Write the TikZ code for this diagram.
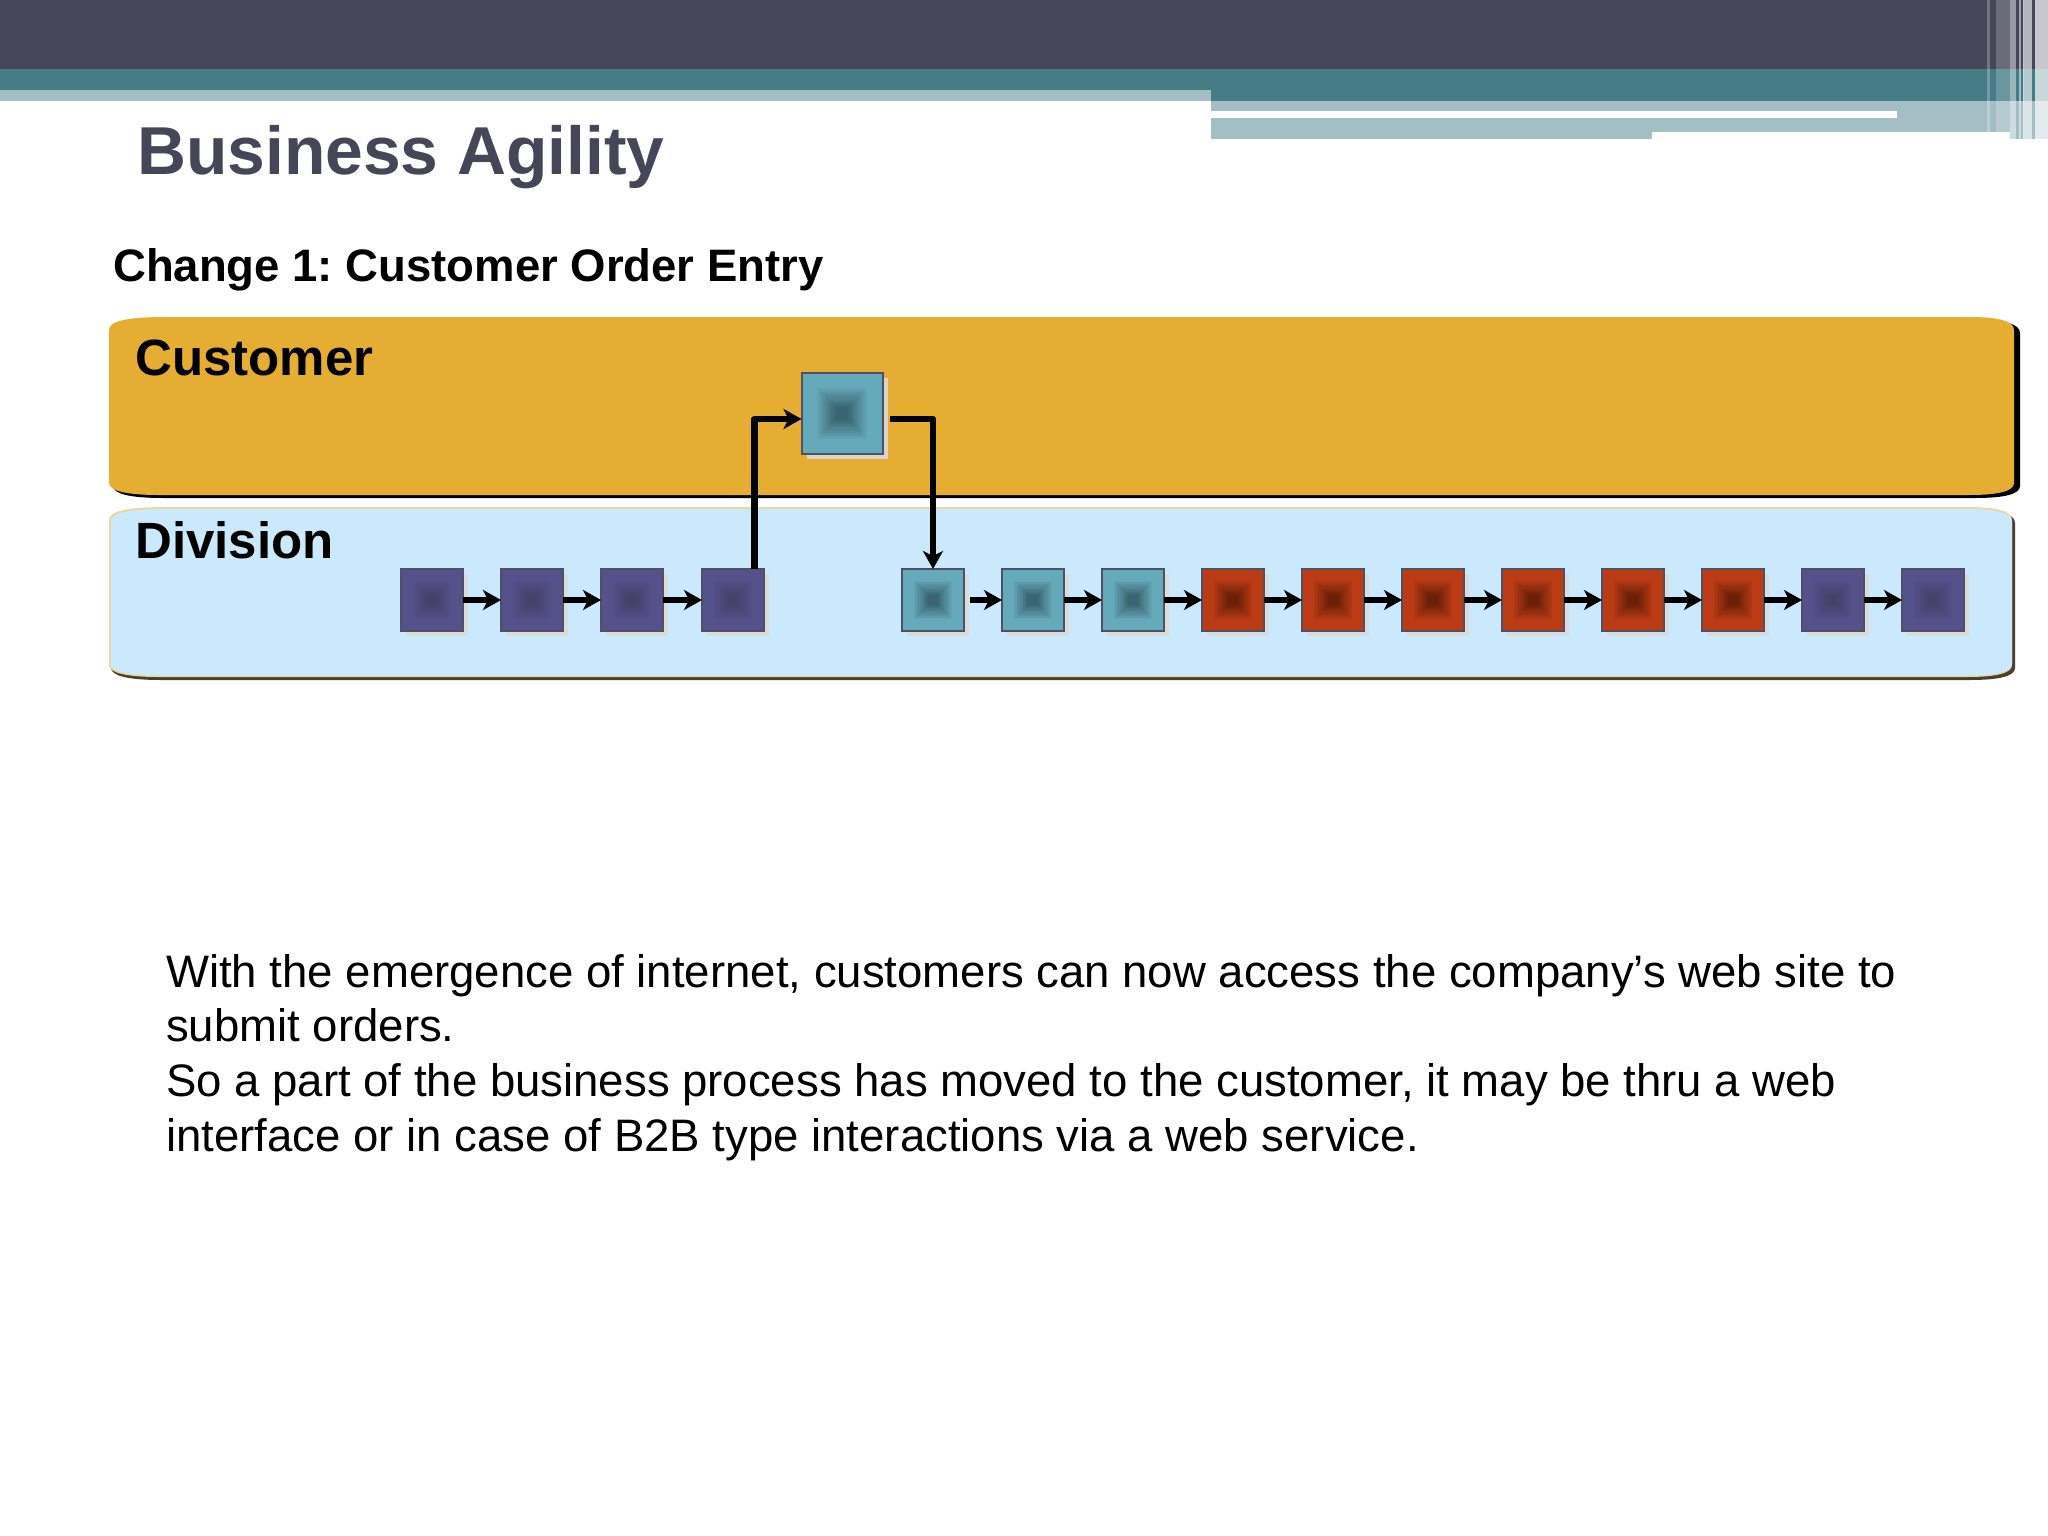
\documentclass[tikz,border=0pt]{standalone}
\usepackage{fontspec}
\setmainfont{Liberation Sans}
\usepackage{pgf,tikz,xcolor}
\usetikzlibrary{calc,positioning,shadows,arrows.meta}
\frenchspacing
\definecolor{bardark}{HTML}{474659}
\definecolor{barteal}{HTML}{457C85}
\definecolor{barlight}{HTML}{A3BFC4}
\definecolor{laneorange}{HTML}{E5AE33}
\definecolor{laneblue}{HTML}{CBE9FD}
\definecolor{laneedge}{HTML}{EBD6A4}
\definecolor{boxedge}{HTML}{4F4F66}
\definecolor{boxshadow}{HTML}{DCDAD8}
\definecolor{purplemain}{HTML}{55518A}
\definecolor{purplecore}{HTML}{45426A}
\definecolor{tealmain}{HTML}{65AABB}
\definecolor{tealcore}{HTML}{3A6470}
\definecolor{redmain}{HTML}{BA3B14}
\definecolor{redcore}{HTML}{6A2008}
\newcommand{\lanepath}[4]{(#1,#2+13) .. controls (#1,#2+4) and (#1+18,#2) .. (#1+58,#2)
    -- (#3-45,#2) .. controls (#3-15,#2) and (#3,#2+4) .. (#3,#2+13)
    -- (#3,#4-12) .. controls (#3,#4-4) and (#3-15,#4) .. (#3-45,#4)
    -- (#1+50,#4) .. controls (#1+18,#4) and (#1,#4-4) .. (#1,#4-12) -- cycle}
\tikzset{
    x=1pt,y=-1pt,
    stepbox/.style n args={3}{
        draw=boxedge,
        line width=2pt,
        inner sep=0pt,
        outer sep=0pt,
        minimum width=#3 pt,
        minimum height=#3 pt,
        fill=#1,
        drop shadow={shadow xshift=5pt,shadow yshift=-5pt,fill=boxshadow,draw=none,opacity=0.9},
        path picture={
            \foreach \k in {0,...,10}{
                \pgfmathtruncatemacro{\mixval}{\k*10}
                \pgfmathsetmacro{\halfval}{(0.34-\k*0.026)*#3}
                \fill[#2!\mixval!#1] ($(path picture bounding box.center)+(-\halfval,-\halfval)$) rectangle ($(path picture bounding box.center)+(\halfval,\halfval)$);
            }
        }
    },
    purplebox/.style={stepbox={purplemain}{purplecore}{62}},
    tealbox/.style={stepbox={tealmain}{tealcore}{62}},
    tealbigbox/.style={stepbox={tealmain}{tealcore}{81}},
    redbox/.style={stepbox={redmain}{redcore}{62}},
    flowline/.style={line width=6.5pt,line join=round,-{Stealth[length=18pt,width=20pt,inset=5pt]}},
    lanelabel/.style={anchor=base west,inner sep=0pt,font=\bfseries\fontsize{51}{55}\selectfont},
    stripe/.style={fill=white,fill opacity=#1}
}
\begin{document}
\begin{tikzpicture}
    \useasboundingbox (0,0) rectangle (2048,1536);
    % header bars
    \fill[bardark] (0,0) rectangle (2048,69);
    \fill[barteal] (0,69) rectangle (2048,101);
    \fill[barlight] (0,90) rectangle (1211,101);
    \fill[barlight] (1211,101) rectangle (2048,139);
    \fill[white] (1211,111) rectangle (1897,118);
    \fill[white] (1652,132) rectangle (2010,139);
    \fill[stripe=0.25] (1987,0) rectangle (1990,132);
    \fill[stripe=0.2] (1996,0) rectangle (2010,132);
    \fill[stripe=0.45] (2010,0) rectangle (2016,139);
    \fill[stripe=0.5] (2019,0) rectangle (2021,139);
    \fill[stripe=0.7] (2023,0) rectangle (2024,139);
    \fill[stripe=0.6] (2024,0) rectangle (2032,139);
    \fill[stripe=0.7] (2035,0) rectangle (2048,139);

    \node[anchor=base west,inner sep=0pt,text=bardark,font=\bfseries\fontsize{67.8}{70}\selectfont] (title) at (137,175) {Business Agility};
    \node[anchor=base west,inner sep=0pt,font=\bfseries\fontsize{45.5}{50}\selectfont] (change) at (113,281) {Change 1: Customer Order Entry};

    % lanes
    \fill[black] \lanepath{113}{320}{2020}{498};
    \fill[laneorange] \lanepath{109}{317}{2014}{495};
    \fill[black!70!laneedge] \lanepath{111}{510}{2015}{680};
    \fill[laneedge] \lanepath{109}{507}{2012}{677};
    \fill[laneblue] \lanepath{110.5}{509}{2012}{675.5};
    \node[lanelabel] (customer) at (135,375) {Customer};
    \node[lanelabel] (division) at (135,558) {Division};

    % top box
    \node[tealbigbox] (top) at (842,413.5) {};
    % steps of the division lane
    \foreach \name/\xpos/\kind in {d1/432/purplebox,d2/532/purplebox,d3/632/purplebox,d4/733/purplebox,
        d5/933/tealbox,d6/1033/tealbox,d7/1133/tealbox,d8/1233/redbox,d9/1333/redbox,d10/1433/redbox,
        d11/1533/redbox,d12/1633/redbox,d13/1733/redbox,d14/1833/purplebox,d15/1933/purplebox}{
        \node[\kind] (\name) at (\xpos,600) {};
    }

    \foreach \a/\b in {d1/d2,d2/d3,d3/d4,d6/d7,d7/d8,d8/d9,d9/d10,d10/d11,d11/d12,d12/d13,d13/d14,d14/d15}{
        \draw[flowline] (\a) -- (\b);
    }
    \draw[flowline,shorten <=6pt] (d5) -- (d6);
    \draw[flowline] ([xshift=21.5pt]d4.north) |- ([yshift=-5.5pt]top.west);
    \draw[flowline] ([xshift=7pt,yshift=-5.5pt]top.east) -| (d5.north);

    \node[anchor=north west,inner sep=0pt,align=left,font=\fontsize{45.53}{54.7}\selectfont] (body) at (166,954)
        {With the emergence of internet, customers can now access the company’s web site to\\
        submit orders.\\
        So a part of the business process has moved to the customer, it may be thru a web\\
        interface or in case of B2B type interactions via a web service.};
\end{tikzpicture}
\end{document}
